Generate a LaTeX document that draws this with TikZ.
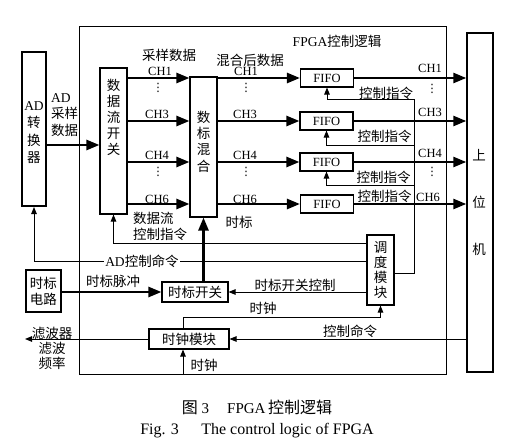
\documentclass[tikz,border=0pt]{standalone}
\usepackage{fontspec}
\setmainfont{Liberation Serif}
\newfontfamily\cjk{Noto Sans CJK SC}
\newfontfamily\dejavu{DejaVu Sans}
\usetikzlibrary{arrows.meta,calc}
\begin{document}
\begin{tikzpicture}[x=1pt,y=-1pt,
  box/.style={draw,line width=1.1pt,inner sep=0pt,fill=white},
  lbl/.style={inner sep=0pt,font=\fontsize{13.5}{16}\selectfont\cjk},
  lat/.style={inner sep=0pt,font=\fontsize{12.5}{14}\selectfont},
  dts/.style={inner sep=0pt,font=\fontsize{11.5}{12}\selectfont\dejavu},
  thin/.style={line width=0.9pt},
  thk/.style={line width=2.5pt},
  tarr/.style={thk,-{Triangle[length=13pt,width=10pt]}},
  sarr/.style={thin,-{Triangle[length=7pt,width=5.5pt]}},
]
\useasboundingbox (0,0) rectangle (523,447);
% outer FPGA box
\node[draw,thin,minimum width=367pt,minimum height=348pt,inner sep=0pt] (fpga) at (262.5,200) {};
% coordinates
\coordinate (cin) at (0,145);
\coordinate (sr) at (414,273);
\coordinate (b1) at (414,99);
\coordinate (b3) at (414,145);
\coordinate (b4) at (414,185);
\coordinate (fb) at (0,243);
\coordinate (adc) at (0,261);
\coordinate (cl) at (183,317);
\coordinate (filt) at (25,339);
\coordinate (cin2) at (183,375);
% boxes
\node[box,line width=2pt,minimum width=24pt,minimum height=154pt] (ad) at (34,129) {};
\node[box,minimum width=27pt,minimum height=146pt] (sw) at (113.5,141) {};
\node[box,minimum width=27pt,minimum height=140pt] (mix) at (203.5,147) {};
\node[box,lat,minimum width=53pt,minimum height=18pt] (f1) at (327,78) {FIFO};
\node[box,lat,minimum width=53pt,minimum height=18pt] (f3) at (326.5,121) {FIFO};
\node[box,lat,minimum width=53pt,minimum height=18pt] (f4) at (326.5,162) {FIFO};
\node[box,lat,minimum width=53pt,minimum height=18pt] (f6) at (327,204) {FIFO};
\node[box,line width=1.4pt,minimum width=26pt,minimum height=339pt] (host) at (480,202.5) {};
\node[box,minimum width=27pt,minimum height=70pt] (sched) at (380.5,270) {};
\node[box,lbl,minimum width=66pt,minimum height=20pt] (tsw) at (195,292) {时标开关};
\node[box,lbl,align=center,minimum width=35pt,minimum height=42pt] (tsc) at (43.5,291) {时标\\电路};
\node[box,lbl,minimum width=80pt,minimum height=20pt] (clk) at (189,339) {时钟模块};
% box texts
\node[lbl,align=center,font=\fontsize{13.5}{17.5}\selectfont\cjk] (tad) at (34,132.5) {{\rmfamily AD}\\转\\换\\器};
\node[lbl,align=center] (tsw2) at (113.5,117) {数\\据\\流\\开\\关};
\node[lbl,align=center,font=\fontsize{13.5}{16.3}\selectfont\cjk] (tmix) at (203.5,141.5) {数\\标\\混\\合};
\node[lbl,align=center,font=\fontsize{13.5}{15.3}\selectfont\cjk] (tsched) at (380.5,270) {调\\度\\模\\块};
\node[lbl,align=center,font=\fontsize{13.5}{47}\selectfont\cjk] (thost) at (479,202) {上\\位\\机};
% thick data paths
\draw[tarr] (ad.east |- cin) -- (sw.west |- cin);
\foreach \f in {f1,f3,f4,f6}{
  \draw[tarr] (sw.east |- \f) -- (mix.west |- \f);
  \draw[tarr] (mix.east |- \f) -- (\f.west);
  \draw[tarr] (\f.east) -- (host.west |- \f);
}
% control bus to FIFOs
\draw[thin] (sched.east |- sr) -- (sr) -- (b1);
\draw[sarr] (b1) -| (f1.south);
\draw[sarr] (b3) -| (f3.south);
\draw[sarr] (b4) -| (f4.south);
% scheduler outputs
\draw[sarr] (sched.west |- fb) -| (sw.south);
\draw[sarr] (sched.west |- adc) -| (ad.south);
\draw[sarr] (sched.west |- tsw) -- (tsw.east);
\draw[tarr] (tsw.north -| mix.south) -- (mix.south);
\draw[tarr] (tsc.east |- tsw) -- (tsw.west);
\draw[sarr] (clk.north -| cl) -- (cl) -| (sched.south);
\draw[sarr] (host.west |- clk) -- (clk.east);
\draw[sarr] (clk.west) -- (filt);
\draw[sarr] (cin2) -- (clk.south -| cin2);
% labels
\node[lbl] (lfpga) at (337,41) {{\rmfamily FPGA}控制逻辑};
\node[lbl] (lsamp) at (169,55) {采样数据};
\node[lbl] (lmixd) at (250,60) {混合后数据};
\node[lbl,align=left,anchor=west,font=\fontsize{13.5}{16.5}\selectfont\cjk] (ladd) at (51,115) {{\rmfamily AD}\\采样\\数据};
\node[lat] (a1) at (160,71) {CH1};
\node[lat] (a3) at (157,114) {CH3};
\node[lat] (a4) at (157,155) {CH4};
\node[lat] (a6) at (157,199) {CH6};
\node[dts] (ad1) at (158,88) {⋮};
\node[dts] (ad4) at (158,172) {⋮};
\node[lat] (m1) at (246,71) {CH1};
\node[lat] (m3) at (245,114) {CH3};
\node[lat] (m4) at (245,155) {CH4};
\node[lat] (m6) at (245,199) {CH6};
\node[dts] (md1) at (246,88) {⋮};
\node[dts] (md4) at (246,172) {⋮};
\node[lat] (r1) at (430,68) {CH1};
\node[lat] (r3) at (430,112) {CH3};
\node[lat] (r4) at (430,153) {CH4};
\node[lat] (r6) at (428,197) {CH6};
\node[dts] (rd1) at (432,89) {⋮};
\node[dts] (rd4) at (432,172) {⋮};
\node[lbl] (k1) at (386,93) {控制指令};
\node[lbl] (k3) at (384.5,136) {控制指令};
\node[lbl] (k4) at (383.5,177) {控制指令};
\node[lbl] (k6) at (384.5,196) {控制指令};
\node[lbl,align=left,anchor=west] (lfbc) at (133,226) {数据流\\控制指令};
\node[lbl] (lts) at (239,222) {时标};
\node[lbl,fill=white,inner xsep=1pt] (ladc) at (142,261) {{\rmfamily AD}控制命令};
\node[lbl] (ltp) at (113,281) {时标脉冲};
\node[lbl] (ltsc) at (295,285) {时标开关控制};
\node[lbl] (lclk1) at (263,308) {时钟};
\node[lbl] (lcmd) at (350,331) {控制命令};
\node[lbl,align=center,font=\fontsize{13.5}{15}\selectfont\cjk] (lfilt) at (52,348) {滤波器\\滤波\\频率};
\node[lbl] (lclk2) at (204,365) {时钟};
% captions
\node[inner sep=0pt,font=\fontsize{15}{17}\selectfont] (cap1) at (257,407) {{\cjk\fontsize{16}{17}\selectfont 图} 3\hspace{1.2em}FPGA\,{\cjk\fontsize{16}{17}\selectfont 控制逻辑}};
\node[inner sep=0pt,font=\fontsize{16}{18}\selectfont] (cap2) at (257,431) {Fig. 3\hspace{1.4em}The control logic of FPGA};
\end{tikzpicture}
\end{document}
